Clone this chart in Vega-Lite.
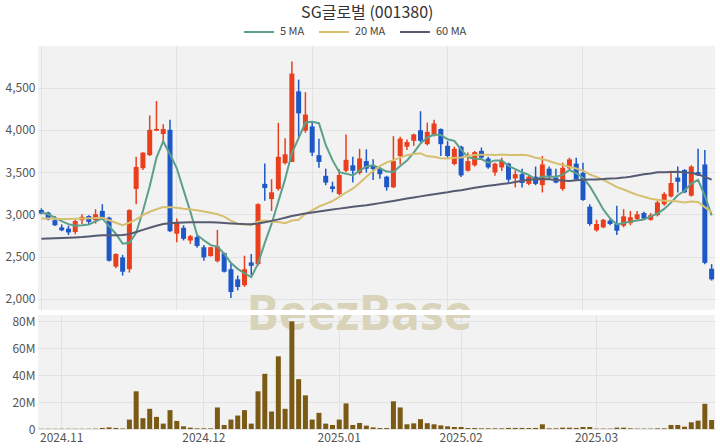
{
"$schema": "https://vega.github.io/schema/vega-lite/v6.json",
"autosize": {"type": "pad"},
"padding": {"left": 5, "top": 5, "right": 5, "bottom": 5},
"background": "white",
"title": {"text": "SG글로벌 (001380)", "fontSize": 16, "fontWeight": "normal", "color": "#333333", "font": "Noto Sans CJK KR", "anchor": "middle", "offset": -5, "dx": 7},
"datasets": {"p": [
{"d":"2024-10-29","o":3050,"h":3070,"l":3000,"c":3010,"v":200000,"m5":3020,"m20":2950,"m60":2710},
{"d":"2024-10-30","o":3020,"h":3030,"l":2930,"c":2940,"v":200000,"m5":3000,"m20":2950,"m60":2712},
{"d":"2024-10-31","o":2930,"h":2980,"l":2860,"c":2870,"v":200000,"m5":2960,"m20":2948,"m60":2715},
{"d":"2024-11-01","o":2845,"h":2880,"l":2800,"c":2810,"v":200000,"m5":2920,"m20":2945,"m60":2718},
{"d":"2024-11-04","o":2830,"h":2865,"l":2755,"c":2785,"v":200000,"m5":2883,"m20":2945,"m60":2722},
{"d":"2024-11-05","o":2790,"h":2935,"l":2765,"c":2920,"v":200000,"m5":2865,"m20":2948,"m60":2726},
{"d":"2024-11-06","o":2930,"h":3000,"l":2885,"c":2970,"v":200000,"m5":2871,"m20":2950,"m60":2730},
{"d":"2024-11-07","o":2980,"h":2990,"l":2880,"c":2910,"v":200000,"m5":2879,"m20":2952,"m60":2737},
{"d":"2024-11-08","o":2930,"h":3060,"l":2890,"c":3000,"v":300000,"m5":2917,"m20":2955,"m60":2745},
{"d":"2024-11-11","o":3040,"h":3120,"l":2950,"c":2960,"v":800000,"m5":2952,"m20":2960,"m60":2752},
{"d":"2024-11-12","o":2960,"h":2970,"l":2440,"c":2450,"v":1200000,"m5":2858,"m20":2930,"m60":2752},
{"d":"2024-11-13","o":2380,"h":2540,"l":2360,"c":2530,"v":800000,"m5":2770,"m20":2900,"m60":2752},
{"d":"2024-11-14","o":2490,"h":2520,"l":2275,"c":2320,"v":400000,"m5":2652,"m20":2872,"m60":2755},
{"d":"2024-11-15","o":2350,"h":3060,"l":2310,"c":3050,"v":7000000,"m5":2662,"m20":2900,"m60":2765},
{"d":"2024-11-18","o":3300,"h":3680,"l":3120,"c":3560,"v":28000000,"m5":2782,"m20":2940,"m60":2790},
{"d":"2024-11-19","o":3545,"h":3735,"l":3525,"c":3730,"v":8000000,"m5":3038,"m20":2990,"m60":2815},
{"d":"2024-11-20","o":3700,"h":4170,"l":3690,"c":4000,"v":15000000,"m5":3332,"m20":3030,"m60":2840},
{"d":"2024-11-21","o":3990,"h":4340,"l":3985,"c":4010,"v":9000000,"m5":3670,"m20":3060,"m60":2865},
{"d":"2024-11-22","o":3950,"h":4065,"l":3850,"c":4010,"v":4000000,"m5":3862,"m20":3085,"m60":2885},
{"d":"2024-11-25","o":4000,"h":4120,"l":2790,"c":2800,"v":14000000,"m5":3710,"m20":3082,"m60":2895},
{"d":"2024-11-26","o":2770,"h":2950,"l":2670,"c":2900,"v":6000000,"m5":3544,"m20":3076,"m60":2900},
{"d":"2024-11-27","o":2840,"h":2870,"l":2690,"c":2710,"v":2000000,"m5":3286,"m20":3065,"m60":2903},
{"d":"2024-11-28","o":2690,"h":2755,"l":2650,"c":2740,"v":1000000,"m5":3032,"m20":3058,"m60":2905},
{"d":"2024-11-29","o":2730,"h":2750,"l":2605,"c":2625,"v":500000,"m5":2755,"m20":3049,"m60":2905},
{"d":"2024-12-02","o":2610,"h":2635,"l":2450,"c":2490,"v":500000,"m5":2693,"m20":3034,"m60":2905},
{"d":"2024-12-03","o":2505,"h":2615,"l":2500,"c":2610,"v":500000,"m5":2635,"m20":3019,"m60":2905},
{"d":"2024-12-04","o":2445,"h":2815,"l":2430,"c":2620,"v":16000000,"m5":2617,"m20":3001,"m60":2903},
{"d":"2024-12-05","o":2540,"h":2545,"l":2310,"c":2320,"v":3000000,"m5":2533,"m20":2972,"m60":2898},
{"d":"2024-12-06","o":2350,"h":2430,"l":2010,"c":2080,"v":7000000,"m5":2424,"m20":2926,"m60":2892},
{"d":"2024-12-09","o":2230,"h":2275,"l":2100,"c":2140,"v":10000000,"m5":2354,"m20":2885,"m60":2887},
{"d":"2024-12-10","o":2160,"h":2510,"l":2140,"c":2350,"v":14000000,"m5":2302,"m20":2880,"m60":2884},
{"d":"2024-12-11","o":2430,"h":2530,"l":2280,"c":2390,"v":4000000,"m5":2256,"m20":2873,"m60":2883},
{"d":"2024-12-12","o":2410,"h":3130,"l":2390,"c":3120,"v":28000000,"m5":2416,"m20":2913,"m60":2890},
{"d":"2024-12-13","o":3360,"h":3600,"l":3160,"c":3310,"v":41000000,"m5":2662,"m20":2926,"m60":2905},
{"d":"2024-12-16","o":3180,"h":3415,"l":3040,"c":3260,"v":13000000,"m5":2886,"m20":2911,"m60":2922},
{"d":"2024-12-17","o":3300,"h":4083,"l":3280,"c":3680,"v":54000000,"m5":3152,"m20":2908,"m60":2940},
{"d":"2024-12-18","o":3605,"h":3900,"l":3590,"c":3710,"v":15000000,"m5":3416,"m20":2894,"m60":2960},
{"d":"2024-12-19","o":3620,"h":4810,"l":3620,"c":4665,"v":80000000,"m5":3725,"m20":2927,"m60":2980},
{"d":"2024-12-20","o":4455,"h":4594,"l":3906,"c":4195,"v":37000000,"m5":3902,"m20":2936,"m60":2995},
{"d":"2024-12-23","o":3990,"h":4445,"l":3965,"c":4180,"v":25000000,"m5":4086,"m20":3005,"m60":3008},
{"d":"2024-12-24","o":4040,"h":4083,"l":3690,"c":3730,"v":7000000,"m5":4096,"m20":3046,"m60":3020},
{"d":"2024-12-26","o":3700,"h":3894,"l":3552,"c":3620,"v":12000000,"m5":4078,"m20":3092,"m60":3032},
{"d":"2024-12-27","o":3455,"h":3540,"l":3344,"c":3375,"v":4000000,"m5":3820,"m20":3124,"m60":3045},
{"d":"2024-12-30","o":3330,"h":3385,"l":3260,"c":3300,"v":3000000,"m5":3641,"m20":3157,"m60":3056},
{"d":"2025-01-02","o":3240,"h":3533,"l":3226,"c":3465,"v":7000000,"m5":3498,"m20":3206,"m60":3067},
{"d":"2025-01-03","o":3515,"h":3945,"l":3500,"c":3645,"v":19000000,"m5":3481,"m20":3258,"m60":3078},
{"d":"2025-01-06","o":3580,"h":3682,"l":3375,"c":3515,"v":3000000,"m5":3460,"m20":3303,"m60":3088},
{"d":"2025-01-07","o":3490,"h":3775,"l":3470,"c":3660,"v":4500000,"m5":3517,"m20":3370,"m60":3098},
{"d":"2025-01-08","o":3630,"h":3769,"l":3493,"c":3540,"v":2500000,"m5":3565,"m20":3443,"m60":3108},
{"d":"2025-01-09","o":3575,"h":3650,"l":3407,"c":3535,"v":1200000,"m5":3579,"m20":3512,"m60":3120},
{"d":"2025-01-10","o":3535,"h":3565,"l":3420,"c":3475,"v":700000,"m5":3545,"m20":3569,"m60":3132},
{"d":"2025-01-13","o":3445,"h":3455,"l":3280,"c":3320,"v":700000,"m5":3506,"m20":3615,"m60":3145},
{"d":"2025-01-14","o":3320,"h":3925,"l":3310,"c":3630,"v":20600000,"m5":3500,"m20":3641,"m60":3158},
{"d":"2025-01-15","o":3690,"h":3918,"l":3590,"c":3895,"v":16000000,"m5":3571,"m20":3670,"m60":3172},
{"d":"2025-01-16","o":3800,"h":3885,"l":3760,"c":3855,"v":3500000,"m5":3635,"m20":3700,"m60":3186},
{"d":"2025-01-17","o":3870,"h":3955,"l":3810,"c":3945,"v":4200000,"m5":3729,"m20":3713,"m60":3199},
{"d":"2025-01-20","o":3995,"h":4220,"l":3855,"c":3870,"v":7300000,"m5":3839,"m20":3721,"m60":3212},
{"d":"2025-01-21","o":3830,"h":4085,"l":3815,"c":3975,"v":4300000,"m5":3908,"m20":3686,"m60":3225},
{"d":"2025-01-22","o":3935,"h":4120,"l":3920,"c":4075,"v":3500000,"m5":3944,"m20":3680,"m60":3238},
{"d":"2025-01-23","o":4010,"h":4015,"l":3690,"c":3830,"v":2700000,"m5":3939,"m20":3663,"m60":3250},
{"d":"2025-01-24","o":3810,"h":3866,"l":3670,"c":3690,"v":2000000,"m5":3888,"m20":3661,"m60":3261},
{"d":"2025-01-31","o":3595,"h":3800,"l":3580,"c":3775,"v":1500000,"m5":3869,"m20":3669,"m60":3275},
{"d":"2025-02-03","o":3800,"h":3810,"l":3440,"c":3460,"v":1500000,"m5":3766,"m20":3673,"m60":3285},
{"d":"2025-02-04","o":3515,"h":3730,"l":3505,"c":3630,"v":700000,"m5":3677,"m20":3689,"m60":3299},
{"d":"2025-02-05","o":3580,"h":3750,"l":3565,"c":3735,"v":700000,"m5":3658,"m20":3703,"m60":3314},
{"d":"2025-02-06","o":3750,"h":3790,"l":3650,"c":3670,"v":500000,"m5":3654,"m20":3704,"m60":3327},
{"d":"2025-02-07","o":3660,"h":3680,"l":3540,"c":3555,"v":500000,"m5":3610,"m20":3706,"m60":3337},
{"d":"2025-02-10","o":3495,"h":3610,"l":3455,"c":3600,"v":500000,"m5":3638,"m20":3703,"m60":3348},
{"d":"2025-02-11","o":3555,"h":3670,"l":3513,"c":3630,"v":500000,"m5":3638,"m20":3708,"m60":3359},
{"d":"2025-02-12","o":3600,"h":3610,"l":3375,"c":3410,"v":800000,"m5":3573,"m20":3701,"m60":3366},
{"d":"2025-02-13","o":3425,"h":3520,"l":3317,"c":3475,"v":800000,"m5":3534,"m20":3701,"m60":3383},
{"d":"2025-02-14","o":3475,"h":3540,"l":3317,"c":3370,"v":800000,"m5":3497,"m20":3704,"m60":3397},
{"d":"2025-02-17","o":3360,"h":3455,"l":3345,"c":3445,"v":700000,"m5":3466,"m20":3695,"m60":3410},
{"d":"2025-02-18","o":3445,"h":3565,"l":3345,"c":3360,"v":800000,"m5":3412,"m20":3668,"m60":3415},
{"d":"2025-02-19","o":3345,"h":3690,"l":3258,"c":3590,"v":3500000,"m5":3448,"m20":3655,"m60":3418},
{"d":"2025-02-20","o":3540,"h":3565,"l":3415,"c":3455,"v":500000,"m5":3444,"m20":3630,"m60":3415},
{"d":"2025-02-21","o":3435,"h":3540,"l":3368,"c":3375,"v":500000,"m5":3445,"m20":3605,"m60":3407},
{"d":"2025-02-24","o":3300,"h":3610,"l":3280,"c":3550,"v":1000000,"m5":3466,"m20":3584,"m60":3399},
{"d":"2025-02-25","o":3545,"h":3670,"l":3533,"c":3650,"v":1000000,"m5":3524,"m20":3563,"m60":3393},
{"d":"2025-02-26","o":3600,"h":3670,"l":3395,"c":3410,"v":800000,"m5":3488,"m20":3542,"m60":3403},
{"d":"2025-02-27","o":3490,"h":3610,"l":3160,"c":3170,"v":1500000,"m5":3431,"m20":3516,"m60":3408},
{"d":"2025-02-28","o":3090,"h":3120,"l":2865,"c":2885,"v":1500000,"m5":3333,"m20":3471,"m60":3411},
{"d":"2025-03-04","o":2810,"h":2935,"l":2795,"c":2885,"v":300000,"m5":3200,"m20":3443,"m60":3413},
{"d":"2025-03-05","o":2845,"h":2945,"l":2835,"c":2935,"v":300000,"m5":3057,"m20":3408,"m60":3418},
{"d":"2025-03-06","o":2925,"h":2945,"l":2870,"c":2885,"v":300000,"m5":2952,"m20":3365,"m60":3425},
{"d":"2025-03-07","o":2885,"h":3100,"l":2755,"c":2805,"v":1000000,"m5":2879,"m20":3322,"m60":3428},
{"d":"2025-03-10","o":2865,"h":3060,"l":2845,"c":2975,"v":1000000,"m5":2897,"m20":3293,"m60":3434},
{"d":"2025-03-11","o":2895,"h":3040,"l":2870,"c":2965,"v":500000,"m5":2913,"m20":3261,"m60":3445},
{"d":"2025-03-12","o":2945,"h":3040,"l":2925,"c":3000,"v":300000,"m5":2926,"m20":3230,"m60":3460},
{"d":"2025-03-13","o":3015,"h":3030,"l":2945,"c":2950,"v":300000,"m5":2939,"m20":3207,"m60":3473},
{"d":"2025-03-14","o":2935,"h":3015,"l":2925,"c":2990,"v":300000,"m5":2976,"m20":3183,"m60":3484},
{"d":"2025-03-17","o":2990,"h":3160,"l":2975,"c":3140,"v":500000,"m5":3009,"m20":3171,"m60":3497},
{"d":"2025-03-18","o":3120,"h":3260,"l":3100,"c":3240,"v":500000,"m5":3064,"m20":3161,"m60":3499},
{"d":"2025-03-19","o":3210,"h":3515,"l":3200,"c":3370,"v":3000000,"m5":3138,"m20":3161,"m60":3500},
{"d":"2025-03-20","o":3435,"h":3565,"l":3258,"c":3385,"v":3000000,"m5":3225,"m20":3151,"m60":3502},
{"d":"2025-03-21","o":3525,"h":3533,"l":3250,"c":3260,"v":1700000,"m5":3279,"m20":3141,"m60":3495},
{"d":"2025-03-24","o":3220,"h":3580,"l":3210,"c":3565,"v":5000000,"m5":3364,"m20":3151,"m60":3492},
{"d":"2025-03-25","o":3500,"h":3776,"l":3454,"c":3460,"v":6200000,"m5":3408,"m20":3146,"m60":3472},
{"d":"2025-03-26","o":3590,"h":3760,"l":2410,"c":2425,"v":18700000,"m5":3219,"m20":3085,"m60":3443},
{"d":"2025-03-27","o":2355,"h":2410,"l":2215,"c":2230,"v":6700000,"m5":2988,"m20":3026,"m60":3410}
]},
"data": {"name": "p"},
"spacing": 5,
"vconcat": [
{
 "width": 677, "height": 264,
 "encoding": {
  "x": {"field": "d", "type": "ordinal", "title": null,
        "scale": {"type": "band", "paddingInner": 0, "paddingOuter": 0},
        "axis": {"labels": false, "ticks": false, "domain": false, "grid": true, "bandPosition": 0.5,
                 "values": ["2024-10-29","2024-11-26","2024-12-24","2025-01-24","2025-02-27"]}}
 },
 "layer": [
  {"data": {"values": [{"t": "BeezBase"}]},
   "mark": {"type": "text", "clip": true, "font": "Noto Sans", "fontWeight": "bold", "fontSize": 48, "color": "#d9d3b9", "baseline": "alphabetic", "align": "center"},
   "encoding": {"x": {"datum": "2025-01-07"},
                "y": {"datum": 1631, "type": "quantitative", "title": null,
                      "scale": {"domain": [1867, 4992], "nice": false, "zero": false},
                      "axis": {"values": [2000,2500,3000,3500,4000,4500], "format": ",d", "grid": true, "ticks": false, "domain": false, "labelPadding": 3, "labelOverlap": false}},
                "text": {"field": "t"}}},
  {"mark": {"type": "rule", "strokeWidth": 1.5},
   "encoding": {
    "y": {"field": "l", "type": "quantitative", "title": null,
          "scale": {"domain": [1867, 4992], "nice": false, "zero": false},
          "axis": {"values": [2000,2500,3000,3500,4000,4500], "format": ",d", "grid": true, "ticks": false, "domain": false, "labelPadding": 3, "labelOverlap": false}},
    "y2": {"field": "h"},
    "color": {"condition": {"test": "datum.c >= datum.o", "value": "#ea3f1c"}, "value": "#1e58c6"}}},
  {"mark": {"type": "bar", "size": 5},
   "encoding": {
    "y": {"field": "o", "type": "quantitative", "title": null},
    "y2": {"field": "c"},
    "color": {"condition": {"test": "datum.c >= datum.o", "value": "#ea3f1c"}, "value": "#1e58c6"}}},
  {"transform": [{"fold": ["m5","m20","m60"], "as": ["k","val"]}],
   "mark": {"type": "line", "strokeWidth": 2},
   "encoding": {
    "y": {"field": "val", "type": "quantitative", "title": null},
    "color": {"field": "k", "type": "nominal",
              "scale": {"domain": ["m5","m20","m60"], "range": ["#5c9f8b","#d6c070","#575b72"]},
              "legend": {"orient": "none", "legendX": 205, "legendY": -30, "direction": "horizontal", "title": null,
                         "labelExpr": "datum.label == 'm5' ? '5 MA' : datum.label == 'm20' ? '20 MA' : '60 MA'",
                         "symbolType": "stroke", "symbolSize": 900, "symbolStrokeWidth": 2,
                         "labelFontSize": 11, "labelColor": "#444444", "columnPadding": 10, "labelOffset": 5}}}}
 ]
},
{
 "width": 677, "height": 114,
 "encoding": {
  "x": {"field": "d", "type": "ordinal", "title": null,
        "scale": {"type": "band", "paddingInner": 0, "paddingOuter": 0},
        "axis": {"ticks": false, "domain": false, "grid": true, "bandPosition": 0.5, "labelAngle": 0, "labelOverlap": false, "labelPadding": 3,
                 "values": ["2024-11-01","2024-12-02","2025-01-02","2025-02-03","2025-03-04"],
                 "labelExpr": "replace(substring(datum.value,0,7),'-','.')"}}
 },
 "layer": [
  {"data": {"values": [{"t": "BeezBase"}]},
   "mark": {"type": "text", "clip": true, "font": "Noto Sans", "fontWeight": "bold", "fontSize": 48, "color": "#d9d3b9", "baseline": "alphabetic", "align": "center"},
   "encoding": {"x": {"datum": "2025-01-07"},
                "y": {"datum": 73500000, "type": "quantitative", "title": null,
                      "scale": {"domain": [0, 84700000], "nice": false},
                      "axis": {"values": [0,20000000,40000000,60000000,80000000], "labelExpr": "datum.value == 0 ? '0' : round(datum.value / 1000000) + 'M'", "grid": true, "ticks": false, "domain": false, "labelPadding": 3, "labelOverlap": false}},
                "text": {"field": "t"}}},
  {"mark": {"type": "bar", "size": 5, "color": "#7a5a14"},
   "encoding": {
    "y": {"field": "v", "type": "quantitative", "title": null,
          "scale": {"domain": [0, 84700000], "nice": false},
          "axis": {"values": [0,20000000,40000000,60000000,80000000], "labelExpr": "datum.value == 0 ? '0' : round(datum.value / 1000000) + 'M'", "grid": true, "ticks": false, "domain": false, "labelPadding": 3, "labelOverlap": false}}}}
 ]
}
],
"config": {
 "font": "Noto Sans CJK KR",
 "view": {"fill": "#f2f2f2", "stroke": null},
 "axis": {"labelFont": "Noto Sans CJK KR", "labelFontSize": 12, "labelColor": "#555555", "gridColor": "#e2e2e2", "gridWidth": 1},
 "legend": {"labelFont": "Noto Sans CJK KR"}
}
}
